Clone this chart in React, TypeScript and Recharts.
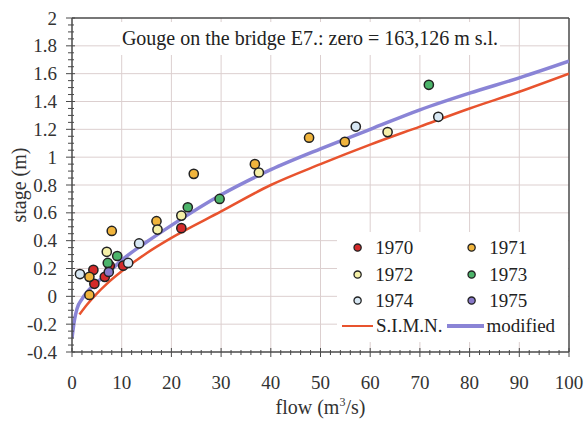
import { ComposedChart, Line, Scatter, XAxis, YAxis, ReferenceLine, Label } from 'recharts';

// observed gauge readings (flow m3/s, stage m), one list per year
const obs1970 = [
    { x: 4.3, y: 0.19 }, { x: 4.5, y: 0.09 }, { x: 6.6, y: 0.14 },
    { x: 7.6, y: 0.22 }, { x: 10.3, y: 0.22 }, { x: 22.0, y: 0.49 },
];
const obs1971 = [
    { x: 3.5, y: 0.14 }, { x: 3.5, y: 0.01 }, { x: 8.0, y: 0.47 }, { x: 17.0, y: 0.54 },
    { x: 24.5, y: 0.88 }, { x: 36.8, y: 0.95 }, { x: 47.7, y: 1.14 }, { x: 54.9, y: 1.11 },
];
const obs1972 = [
    { x: 7.0, y: 0.32 }, { x: 17.2, y: 0.48 }, { x: 22.0, y: 0.58 },
    { x: 37.6, y: 0.89 }, { x: 63.5, y: 1.18 },
];
const obs1973 = [
    { x: 7.2, y: 0.24 }, { x: 9.1, y: 0.29 }, { x: 23.3, y: 0.64 },
    { x: 29.7, y: 0.70 }, { x: 71.8, y: 1.52 },
];
const obs1974 = [
    { x: 1.6, y: 0.16 }, { x: 11.3, y: 0.24 }, { x: 13.5, y: 0.38 },
    { x: 57.1, y: 1.22 }, { x: 73.7, y: 1.29 },
];
const obs1975 = [{ x: 7.4, y: 0.175 }];

// rating curves
const simnCurve = [
    { x: 1.5, y: -0.13 }, { x: 3, y: -0.06 }, { x: 5, y: 0.02 }, { x: 7, y: 0.09 },
    { x: 10, y: 0.18 }, { x: 15, y: 0.31 }, { x: 20, y: 0.42 }, { x: 30, y: 0.61 },
    { x: 40, y: 0.8 }, { x: 50, y: 0.95 }, { x: 60, y: 1.09 }, { x: 70, y: 1.22 },
    { x: 80, y: 1.35 }, { x: 90, y: 1.47 }, { x: 100, y: 1.6 },
];
const modifiedCurve = [
    { x: 0, y: -0.3 }, { x: 0.5, y: -0.17 }, { x: 1, y: -0.09 }, { x: 2, y: -0.02 },
    { x: 3, y: 0.03 }, { x: 5, y: 0.1 }, { x: 7, y: 0.16 }, { x: 10, y: 0.26 },
    { x: 15, y: 0.39 }, { x: 20, y: 0.51 }, { x: 30, y: 0.73 }, { x: 40, y: 0.91 },
    { x: 50, y: 1.06 }, { x: 60, y: 1.2 }, { x: 70, y: 1.34 }, { x: 80, y: 1.46 },
    { x: 90, y: 1.57 }, { x: 100, y: 1.69 },
];

const xMajor = [0, 10, 20, 30, 40, 50, 60, 70, 80, 90, 100];
const yMajor = [-0.4, -0.2, 0, 0.2, 0.4, 0.6, 0.8, 1, 1.2, 1.4, 1.6, 1.8, 2];
const xMinorStep = 2;
const yMinorStep = 0.05;

const xTicks = Array.from({ length: 51 }, (_, i) => i * xMinorStep);
const yTicks = Array.from({ length: 49 }, (_, i) => Math.round((-0.4 + i * yMinorStep) * 100) / 100);

const series = [
    { name: '1970', data: obs1970, color: '#d42a2a' },
    { name: '1971', data: obs1971, color: '#f0b43c' },
    { name: '1972', data: obs1972, color: '#f5f0a8' },
    { name: '1973', data: obs1973, color: '#4cb46a' },
    { name: '1974', data: obs1974, color: '#d8e8f4' },
    { name: '1975', data: obs1975, color: '#8878c8' },
];

const SERIF = '"Liberation Serif", "Times New Roman", serif';
const AXIS = '#4a4a4a';
const GRID = '#dccfcf';
const RED = '#e8532e';
const BLUE = '#8a84d6';

const isMajor = (v: number, step: number) => Math.abs(v / step - Math.round(v / step)) < 1e-6;

const XTick = (props: any) => {
    const { x, y, payload } = props;
    const major = isMajor(payload.value, 10);
    return (
        <g>
            <line x1={x} x2={x} y1={y - (major ? 4 : 2)} y2={y + (major ? 5 : 3)} stroke={AXIS} strokeWidth={1} />
            {major && (
                <text x={x} y={y + 37} textAnchor="middle" fontFamily={SERIF} fontSize={19} fill="#333">
                    {payload.value}
                </text>
            )}
        </g>
    );
};

const YTick = (props: any) => {
    const { x, y, payload } = props;
    const major = isMajor(payload.value, 0.2);
    return (
        <g>
            <line x1={x - (major ? 6 : 4)} x2={x + (major ? 3 : 2)} y1={y} y2={y} stroke={AXIS} strokeWidth={1} />
            {major && (
                <text x={x - 15} y={y + 6.5} textAnchor="end" fontFamily={SERIF} fontSize={19} fill="#333">
                    {String(Math.round(payload.value * 10) / 10)}
                </text>
            )}
        </g>
    );
};

const XTitle = (props: any) => {
    const { x, y, width } = props.viewBox;
    return (
        <text x={x + width / 2} y={y + 62} textAnchor="middle" fontFamily={SERIF} fontSize={20} fill="#333">
            flow (m<tspan dy={-8} fontSize={12}>3</tspan><tspan dy={8}>/s)</tspan>
        </text>
    );
};

const YTitle = (props: any) => {
    const { y, height } = props.viewBox;
    const cy = y + height / 2;
    return (
        <text x={19} y={cy} transform={`rotate(-90, 19, ${cy})`} textAnchor="middle" dominantBaseline="central"
            fontFamily={SERIF} fontSize={20} fill="#333">
            stage (m)
        </text>
    );
};

const Dot = ({ color, size }: { color: string; size: number }) => (
    <svg width={size * 2 + 4} height={size * 2 + 4} style={{ display: 'block' }}>
        <circle cx={size + 2} cy={size + 2} r={size} fill={color} stroke="#222" strokeWidth={1.3} />
    </svg>
);

export default function App() {
    return (
        <div style={{ position: 'absolute', left: 0, top: 0, width: 586, height: 422, background: '#fff' }}>
            <ComposedChart width={586} height={422} margin={{ top: 18, right: 17, left: 0, bottom: 0 }}>
                {xMajor.slice(1, -1).map(v => (
                    <ReferenceLine key={'gx' + v} x={v} stroke={GRID} strokeWidth={1} />
                ))}
                {yMajor.slice(1, -1).map(v => (
                    <ReferenceLine key={'gy' + v} y={v} stroke={GRID} strokeWidth={1} />
                ))}
                <ReferenceLine x={100} stroke={AXIS} strokeWidth={1.5} />
                <ReferenceLine y={2} stroke={AXIS} strokeWidth={1.5} />
                <XAxis
                    type="number"
                    dataKey="x"
                    domain={[0, 100]}
                    ticks={xTicks}
                    interval={0}
                    height={70}
                    tickSize={0}
                    tickMargin={0}
                    tickLine={false}
                    tick={<XTick />}
                    axisLine={{ stroke: AXIS, strokeWidth: 1.5 }}
                    allowDataOverflow
                >
                    <Label content={<XTitle />} />
                </XAxis>
                <YAxis
                    type="number"
                    domain={[-0.4, 2]}
                    ticks={yTicks}
                    interval={0}
                    width={72}
                    tickSize={0}
                    tickMargin={0}
                    tickLine={false}
                    tick={<YTick />}
                    axisLine={{ stroke: AXIS, strokeWidth: 1.5 }}
                    allowDataOverflow
                >
                    <Label content={<YTitle />} />
                </YAxis>
                <Line data={simnCurve} dataKey="y" type="monotone" stroke={RED} strokeWidth={2.5} dot={false} isAnimationActive={false} />
                <Line data={modifiedCurve} dataKey="y" type="monotone" stroke={BLUE} strokeWidth={3.5} dot={false} isAnimationActive={false} />
                {series.map(s => (
                    <Scatter
                        key={s.name}
                        name={s.name}
                        data={s.data}
                        dataKey="y"
                        isAnimationActive={false}
                        shape={(p: any) => (
                            <circle cx={p.cx} cy={p.cy} r={4.6} fill={s.color} stroke="#222" strokeWidth={1.5} />
                        )}
                    />
                ))}
            </ComposedChart>

            <div style={{
                position: 'absolute', left: 120, top: 22, width: 380, height: 33, background: '#fff',
                fontFamily: SERIF, fontSize: 20, color: '#222', textAlign: 'center', lineHeight: '33px',
                whiteSpace: 'nowrap',
            }}>
                Gouge on the bridge E7.: zero = 163,126 m s.l.
            </div>

            <div style={{
                position: 'absolute', left: 337, top: 232, width: 231, height: 110, background: '#fff',
                fontFamily: SERIF, fontSize: 19, color: '#222',
            }}>
                {series.map((s, i) => (
                    <div key={s.name} style={{
                        position: 'absolute', left: i % 2 === 0 ? 15 : 129, top: 4 + Math.floor(i / 2) * 26.5,
                        display: 'flex', alignItems: 'center', height: 24,
                    }}>
                        <Dot color={s.color} size={3.6} />
                        <span style={{ marginLeft: 12 }}>{s.name}</span>
                    </div>
                ))}
                <div style={{ position: 'absolute', left: 5, top: 82, display: 'flex', alignItems: 'center', height: 24 }}>
                    <div style={{ width: 31, height: 2.5, background: RED }} />
                    <span style={{ marginLeft: 3 }}>S.I.M.N.</span>
                    <div style={{ width: 37, height: 3.5, background: BLUE, marginLeft: 4 }} />
                    <span style={{ marginLeft: 3 }}>modified</span>
                </div>
            </div>
        </div>
    );
}
